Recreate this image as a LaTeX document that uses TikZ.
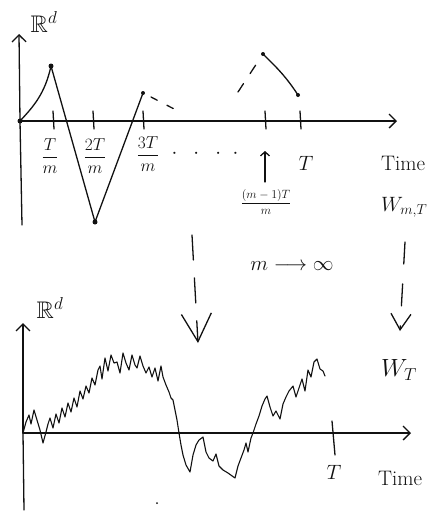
\documentclass[tikz,border=0pt]{standalone}
\usepackage{tikz}
\usepackage{amsmath}
\usepackage{amssymb}
\usetikzlibrary{arrows.meta}
\definecolor{ink}{HTML}{111111}

\begin{document}
\begin{tikzpicture}[x=1pt,y=-1pt,
  pen/.style={draw=ink,line width=1.3pt,line cap=round,line join=round},
  axisline/.style={pen,-{Straight Barb[length=7pt,width=14pt,line width=1.3pt]}},
  tickmark/.style={pen},
  dotpt/.style={circle,fill=ink,inner sep=0pt,minimum size=5pt},
  lbl/.style={text=ink,inner sep=1pt,font=\fontsize{21}{24}\selectfont},
  frac/.style={text=ink,inner sep=1pt,font=\fontsize{17}{19}\selectfont}
]
\useasboundingbox (0,0) rectangle (445,515);

% upper picture: the piecewise linear walk
\coordinate (o1) at (20,121);
\coordinate (ytop1) at (19,34);
\coordinate (ybot1) at (22,225);
\coordinate (xend1) at (397,121);
\draw[pen] (ybot1) -- (o1);
\draw[axisline] (o1) -- (ytop1);
\draw[axisline] (o1) -- (xend1);
\node[lbl,font=\fontsize{24}{26}\selectfont] (rd1) at (44,22) {$\mathbb{R}^d$};

\foreach \tx/\tn in {53/t1,93/t2,143/t3,265/t4,300/t5}{
  \draw[tickmark] (\tx,111) -- (\tx+1,129);
}

\node[dotpt] (p0) at (o1) {};
\node[dotpt] (p1) at (51,66) {};
\node[dotpt] (p2) at (95,222) {};
\node[dotpt,minimum size=4pt] (p3) at (143,93) {};
\node[dotpt,minimum size=4pt] (p4) at (263,54) {};
\node[dotpt,minimum size=4pt] (p5) at (298,95) {};
\draw[pen] (p0.center) .. controls (33,107) and (45,94) .. (p1.center);
\draw[pen] (p1.center) -- (p2.center) -- (p3.center);
\draw[pen,dash pattern=on 7pt off 11pt] (151,97) -- (178,111);
\draw[pen,dash pattern=on 10pt off 12pt] (238,92) -- (259,60);
\draw[pen] (p4.center) .. controls (275,66) and (285,75) .. (p5.center);

\node[frac] (f1) at (50,156) {$\dfrac{T}{m}$};
\node[frac] (f2) at (95,156) {$\dfrac{2T}{m}$};
\node[frac] (f3) at (148,154) {$\dfrac{3T}{m}$};
\node[lbl] (gap) at (205,154) {$\cdot\;\;\cdot\;\;\cdot\;\;\cdot$};
\coordinate (up0) at (265,182);
\coordinate (up1) at (265,151);
\draw[pen,-{Straight Barb[length=4pt,width=9pt,line width=1.3pt]}] (up0) -- (up1);
\node[frac,font=\fontsize{13}{15}\selectfont] (fm) at (266,202) {$\dfrac{(m-1)T}{m}$};
\node[lbl] (tend1) at (306,163) {$T$};
\node[lbl,anchor=west] (time1) at (380,163) {Time};
\node[lbl,anchor=west] (wmt) at (380,207) {$W_{m,T}$};

% the limit m to infinity
\coordinate (la0) at (192,235);
\coordinate (la1) at (198,343);
\draw[pen,dash pattern=on 25pt off 18pt,
  -{Straight Barb[length=28pt,width=30pt,line width=1.3pt]}] (la0) -- (la1);
\node[lbl] (lim) at (292,266) {$m \longrightarrow \infty$};
\coordinate (ra0) at (405,242);
\coordinate (ra1) at (400,331);
\draw[pen,dash pattern=on 22pt off 20pt,
  -{Straight Barb[length=16pt,width=20pt,line width=1.3pt]}] (ra0) -- (ra1);
\node[lbl,font=\fontsize{24}{26}\selectfont,anchor=west] (wt) at (380,370) {$W_T$};

% lower picture: the Brownian path
\coordinate (o2) at (23,433);
\coordinate (ytop2) at (23,323);
\coordinate (ybot2) at (24,510);
\coordinate (xend2) at (411,433);
\draw[pen] (ybot2) -- (o2);
\draw[axisline] (o2) -- (ytop2);
\draw[axisline] (o2) -- (xend2);
\node[lbl,font=\fontsize{24}{26}\selectfont] (rd2) at (50,308) {$\mathbb{R}^d$};
\draw[tickmark] (332,421) -- (335,455);
\node[lbl] (tend2) at (334,472) {$T$};
\node[lbl,anchor=west] (time2) at (377,478) {Time};
\node[circle,fill=ink,inner sep=0pt,minimum size=2pt] (speck) at (157,503) {};

\draw[pen,line width=1.1pt] (o2)
  -- (26,422) -- (29,415) -- (31,424) -- (34,410) -- (37,420) -- (40,430)
  -- (43,443) -- (46,432) -- (48,424) -- (50,418) -- (53,428) -- (56,414)
  -- (59,423) -- (62,408) -- (65,417) -- (68,403) -- (71,412) -- (74,398)
  -- (77,407) -- (80,391) -- (83,399) -- (86,386) -- (89,393) -- (92,378)
  -- (95,385) -- (98,370) -- (100,366) -- (102,379) -- (105,358) -- (108,371)
  -- (111,355) -- (114,363) -- (117,362) -- (120,373) -- (123,353) -- (126,363)
  -- (129,370) -- (132,355) -- (135,365) -- (137,368) -- (140,356) -- (143,366)
  -- (146,373) -- (149,367) -- (152,377) -- (155,368) -- (158,381) -- (161,366)
  -- (163,377) -- (166,385) -- (169,392) -- (171,398) -- (173,400) -- (175,410)
  -- (177,420) -- (179,433) -- (181,445) -- (183,455) -- (186,465) -- (190,472)
  -- (193,455) -- (196,445) -- (199,440) -- (203,437) -- (206,452) -- (209,458)
  -- (213,461) -- (216,454) -- (219,466) -- (223,470) -- (228,473) -- (235,478)
  -- (238,466) -- (241,458) -- (244,450) -- (246,443) -- (248,452) -- (251,438)
  -- (253,433) -- (256,424) -- (259,416) -- (262,406) -- (265,399) -- (267,396)
  -- (270,407) -- (273,416) -- (276,411) -- (280,419) -- (283,404) -- (286,397)
  -- (289,391) -- (293,386) -- (296,397) -- (299,388) -- (302,379) -- (305,391)
  -- (308,370) -- (311,377) -- (314,362) -- (317,359) -- (320,369) -- (323,371)
  -- (325,376);
\end{tikzpicture}
\end{document}
